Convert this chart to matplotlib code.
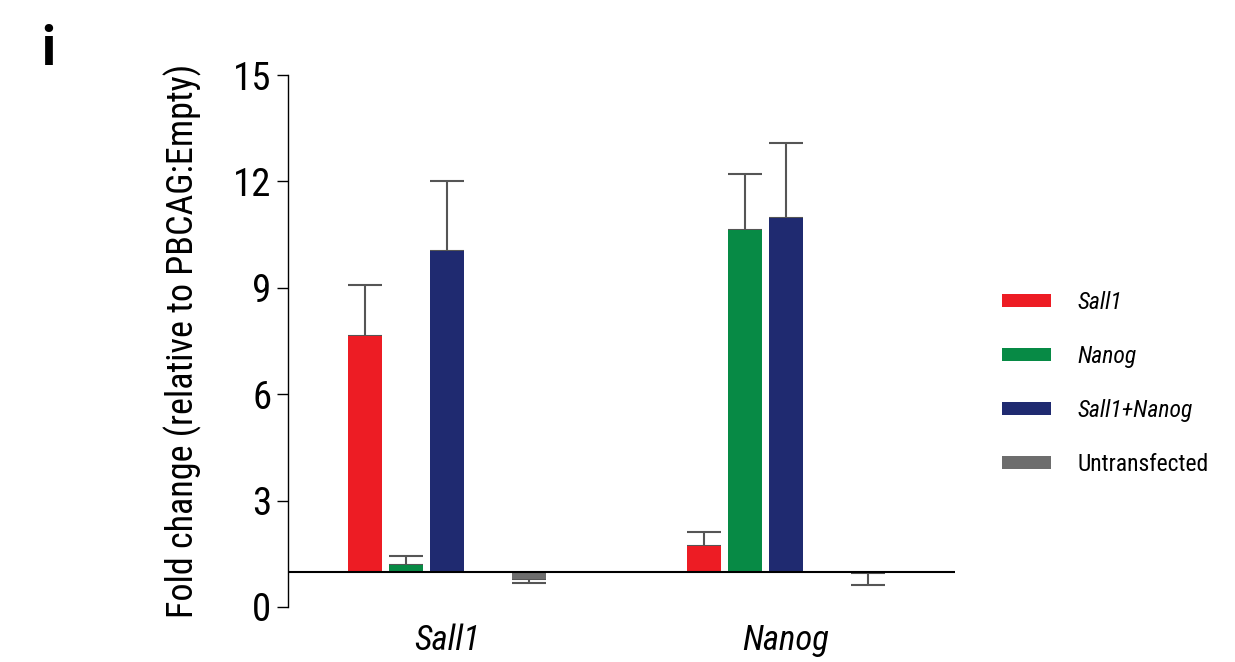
import numpy as np
import matplotlib
matplotlib.use("Agg")
import matplotlib.pyplot as plt
from matplotlib.patches import Patch

plt.rcParams['font.family'] = ['Roboto Condensed', 'Liberation Sans', 'DejaVu Sans']

# values (fold change, bars drawn from baseline 1)
genes = ['Sall1', 'Nanog']
conditions = ['Sall1', 'Nanog', 'Sall1+Nanog', 'Untransfected']
cond_italic = [True, True, True, False]
means = {
    'Sall1':         [7.64, 1.72],
    'Nanog':         [1.18, 10.63],
    'Sall1+Nanog':   [10.04, 10.97],
    'Untransfected': [0.78, 0.97],
}
errs = {
    'Sall1':         [1.44, 0.39],
    'Nanog':         [0.26, 1.58],
    'Sall1+Nanog':   [1.97, 2.11],
    'Untransfected': [0.10, 0.35],
}
colors = ['#ED1C24', '#078A45', '#1F2A70', '#6D6D6D']
slots = [-2, -1, 0, 2]   # slot 1 is left empty before Untransfected
baseline = 1.0

fig = plt.figure(figsize=(12.35, 6.62), dpi=100)
ax = fig.add_axes([0.2332, 0.0831, 0.5401, 0.8036])

x = np.arange(len(genes))
step = 41 / 339
width = 34 / 339

for cond, col, s in zip(conditions, colors, slots):
    vals = np.array(means[cond])
    err = np.array(errs[cond])
    xs = x + s * step
    ax.bar(xs, vals - baseline, bottom=baseline, width=width, color=col, zorder=2)
    up = vals >= baseline
    lower = np.where(up, 0, err)
    upper = np.where(up, err, 0)
    ax.errorbar(xs, vals, yerr=[lower, upper], fmt='none', ecolor='#555555',
                elinewidth=1.5, capsize=12, capthick=1.5, zorder=1)

ax.axhline(baseline, color='black', lw=1.5, zorder=3)

ax.set_xlim(-0.469, 1.499)
ax.set_ylim(0, 15)
ax.set_yticks([0, 3, 6, 9, 12, 15])
ax.tick_params(axis='y', labelsize=28, length=8, width=1, pad=4)
ax.set_xticks(x)
ax.set_xticklabels(genes, fontsize=25, style='italic')
ax.tick_params(axis='x', length=0, pad=12)
for sp in ['top', 'right', 'bottom']:
    ax.spines[sp].set_visible(False)
ax.spines['left'].set_linewidth(1)
ax.set_ylabel('Fold change (relative to PBCAG:Empty)', fontsize=26, labelpad=22)

handles = [Patch(facecolor=c, edgecolor='none') for c in colors]
leg = fig.legend(handles, conditions, loc='upper left', bbox_to_anchor=(0.811, 0.561),
                 frameon=False, fontsize=17, handlelength=2.08, handleheight=0.5,
                 handletextpad=1.15, labelspacing=1.32, borderpad=0, borderaxespad=0)
for t, it in zip(leg.get_texts(), cond_italic):
    if it:
        t.set_style('italic')

fig.text(0.033, 0.925, 'i', fontsize=40, fontweight='bold', ha='left', va='center')

fig.savefig('out.png', dpi=100)
